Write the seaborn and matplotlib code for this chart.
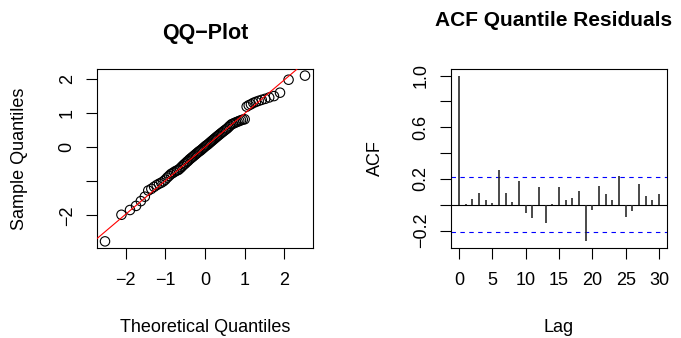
import numpy as np
import pandas as pd
import seaborn as sns
import matplotlib
matplotlib.use("Agg")
import matplotlib.pyplot as plt
from statistics import NormalDist

# ---------------- data ----------------
sample_quantiles = [
    -2.76, -1.98, -1.84, -1.72, -1.58, -1.45, -1.27, -1.22, -1.16, -1.11,
    -1.07, -1.04, -1.00, -0.95, -0.89, -0.84, -0.79, -0.76, -0.73, -0.70,
    -0.68, -0.66, -0.62, -0.58, -0.54, -0.50, -0.47, -0.43, -0.40, -0.36,
    -0.33, -0.30, -0.27, -0.24, -0.21, -0.18, -0.15, -0.12, -0.10, -0.07,
    -0.04, -0.01, 0.02, 0.05, 0.07, 0.10, 0.13, 0.16, 0.19, 0.22,
    0.25, 0.28, 0.31, 0.34, 0.37, 0.40, 0.43, 0.46, 0.49, 0.52,
    0.55, 0.59, 0.63, 0.67, 0.69, 0.71, 0.73, 0.75, 0.77, 0.79,
    0.81, 0.82, 1.19, 1.23, 1.26, 1.30, 1.33, 1.36, 1.39, 1.42,
    1.46, 1.50, 1.60, 1.98, 2.10,
]

acf_lags = list(range(31))
acf_values = [
    1.000, 0.008, 0.041, 0.088, 0.034, 0.013, 0.266, 0.088, 0.023, 0.181,
    -0.065, -0.103, 0.140, -0.145, 0.005, 0.135, 0.039, 0.049, 0.109, -0.284,
    -0.039, 0.142, 0.085, 0.039, 0.220, -0.096, -0.047, 0.163, 0.065, 0.039,
    0.083,
]
n_obs = 85

qq_xticks = [-2, -1, 0, 1, 2]
qq_xticklabels = ["\u22122", "\u22121", "0", "1", "2"]
qq_yticks = [-2, -1, 0, 1, 2]
qq_yticklabels = ["\u22122", "", "0", "1", "2"]
acf_xticks = [0, 5, 10, 15, 20, 25, 30]
acf_xticklabels = ["0", "5", "10", "15", "20", "25", "30"]
acf_yticks = [-0.2, 0.0, 0.2, 0.4, 0.6, 0.8, 1.0]
acf_yticklabels = ["\u22120.2", "", "0.2", "", "0.6", "", "1.0"]

# ---------------- style ----------------
sns.set_theme(style="white")
plt.rcParams["font.family"] = ["Liberation Sans", "DejaVu Sans"]
plt.rcParams["text.color"] = "black"
plt.rcParams["axes.labelcolor"] = "black"
plt.rcParams["xtick.color"] = "black"
plt.rcParams["ytick.color"] = "black"

W, H = 681, 338
fig = plt.figure(figsize=(W / 100, H / 100), dpi=100)
fig.patch.set_facecolor("white")

FS = 13
TICKLEN = 7.8


def px_box(x0, y0, x1, y1):
    return [x0 / W, 1 - y1 / H, (x1 - x0) / W, (y1 - y0) / H]


def style_axes(ax):
    ax.set_facecolor("white")
    for s in ax.spines.values():
        s.set_visible(True)
        s.set_color("black")
        s.set_linewidth(0.8)
    ax.grid(False)
    ax.tick_params(axis="both", direction="out", length=TICKLEN, width=0.8,
                   color="black", labelsize=FS, labelcolor="black",
                   bottom=True, left=True, top=False, right=False)
    ax.tick_params(axis="x", pad=9.5)
    ax.tick_params(axis="y", pad=7.5)
    ax.set_xlabel("")
    ax.set_ylabel("")


def padded(lo, hi, frac=0.04):
    r = hi - lo
    return lo - frac * r, hi + frac * r


# ---------------- QQ plot ----------------
nd = NormalDist()
n = len(sample_quantiles)
a = 3 / 8 if n <= 10 else 0.5
theo = [nd.inv_cdf((i + 1 - a) / (n + 1 - 2 * a)) for i in range(n)]
df = pd.DataFrame({"theo": theo, "sample": sorted(sample_quantiles)})

ax1 = fig.add_axes(px_box(97, 69, 313, 248))
sns.scatterplot(data=df, x="theo", y="sample", ax=ax1, marker="o", s=46,
                facecolor="none", edgecolor="black", linewidth=0.8, zorder=2)

yq = np.quantile(df["sample"], [0.25, 0.75])
xq = np.array([nd.inv_cdf(0.25), nd.inv_cdf(0.75)])
slope = (yq[1] - yq[0]) / (xq[1] - xq[0])
intercept = yq[0] - slope * xq[0]
ax1.axline((0, intercept), slope=slope, color="red", lw=0.8, zorder=3)

ax1.set_xlim(*padded(min(theo), max(theo)))
ax1.set_ylim(*padded(min(sample_quantiles), max(sample_quantiles)))
style_axes(ax1)
ax1.set_xticks(qq_xticks)
ax1.set_xticklabels(qq_xticklabels)
ax1.set_yticks(qq_yticks)
ax1.set_yticklabels(qq_yticklabels, rotation=90, va="center")

fig.text(205 / W, 1 - 34 / H, "QQ\u2212Plot", ha="center", va="center",
         fontsize=15.5, fontweight="bold", color="black")
fig.text(205 / W, 1 - 327 / H, "Theoretical Quantiles", ha="center",
         va="center", fontsize=FS, color="black")
fig.text(20 / W, 1 - 158.5 / H, "Sample Quantiles", ha="center",
         va="center", rotation=90, fontsize=FS, color="black")

# ---------------- ACF plot ----------------
clim = 1.96 / np.sqrt(n_obs)
ax2 = fig.add_axes(px_box(451, 69, 667, 248))
ax2.vlines(acf_lags, 0, acf_values, color="#2a2a2a", lw=1.2, zorder=3)
ax2.axhline(0, color="black", lw=0.8, zorder=2)
ax2.axhline(clim, color="blue", lw=0.8, ls=(0, (4, 4)), zorder=2)
ax2.axhline(-clim, color="blue", lw=0.8, ls=(0, (4, 4)), zorder=2)
ax2.set_xlim(*padded(min(acf_lags), max(acf_lags)))
ylo = min(min(acf_values), -clim)
yhi = max(max(acf_values), clim)
ax2.set_ylim(*padded(ylo, yhi))
style_axes(ax2)
ax2.set_xticks(acf_xticks)
ax2.set_xticklabels(acf_xticklabels)
ax2.set_yticks(acf_yticks)
ax2.set_yticklabels(acf_yticklabels, rotation=90, va="center")

fig.text(554 / W, 1 - 21 / H, "ACF Quantile Residuals", ha="center",
         va="center", fontsize=15, fontweight="bold", color="black")
fig.text(559 / W, 1 - 327 / H, "Lag", ha="center", va="center", fontsize=FS,
         color="black")
fig.text(375 / W, 1 - 158.5 / H, "ACF", ha="center", va="center",
         rotation=90, fontsize=FS, color="black")

fig.savefig("out.png", dpi=100, facecolor="white")
